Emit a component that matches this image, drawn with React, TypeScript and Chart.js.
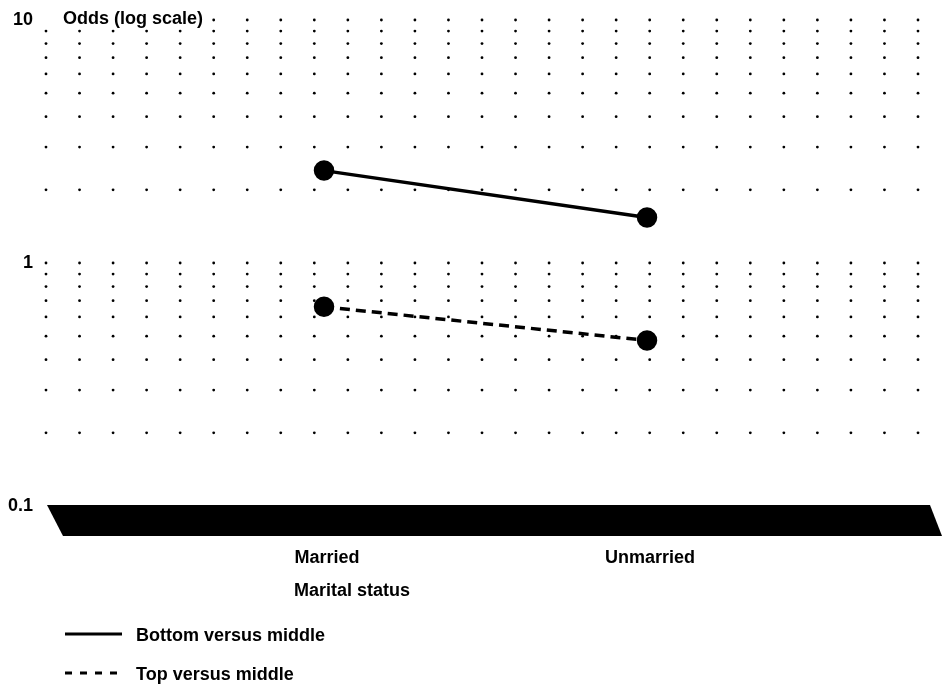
import React, { useEffect, useRef } from "react";
import { Chart, registerables } from "chart.js";

Chart.register(...registerables);

// ---- data ----
const CATEGORIES = ["Married", "Unmarried"];
const BOTTOM_VS_MIDDLE = [2.4, 1.54];
const TOP_VS_MIDDLE = [0.66, 0.48];
const SERIES_NAMES = ["Bottom versus middle", "Top versus middle"];
const Y_TICKS = [0.1, 1, 10];
const GRID_ROWS = [0.2, 0.3, 0.4, 0.5, 0.6, 0.7, 0.8, 0.9, 1, 2, 3, 4, 5, 6, 7, 8, 9, 10];
const GRID_COLUMNS = Array.from({ length: 27 }, (_, i) => i);
const X_TITLE = "Marital status";
const Y_TITLE = "Odds (log scale)";

const FONT = "'Liberation Sans', Arial, Helvetica, sans-serif";
const BOLD18 = `bold 18px ${FONT}`;

const decorPlugin = {
  id: "decor",
  beforeDatasetsDraw(chart: any) {
    const { ctx, chartArea, scales } = chart;
    const y = scales.y;
    const gx = scales.gx;
    const x = scales.x;
    ctx.save();
    // dotted grid
    ctx.fillStyle = "#000";
    for (const v of GRID_ROWS) {
      const py = y.getPixelForValue(v);
      for (const k of GRID_COLUMNS) {
        const px = gx.getPixelForValue(k);
        ctx.beginPath();
        ctx.arc(px, py, 1.4, 0, Math.PI * 2);
        ctx.fill();
      }
    }
    // thick axis band
    const b = chartArea.bottom;
    ctx.beginPath();
    ctx.moveTo(chartArea.left + 1, b - 1);
    ctx.lineTo(chartArea.right + 12, b - 1);
    ctx.lineTo(chartArea.right + 24, b + 30);
    ctx.lineTo(chartArea.left + 17, b + 30);
    ctx.closePath();
    ctx.fill();

    // y title with white background
    ctx.font = BOLD18;
    const tw = ctx.measureText(Y_TITLE).width;
    const ty = y.getPixelForValue(10) - 1;
    ctx.fillStyle = "#fff";
    ctx.fillRect(chartArea.left - 6, ty - 12, 63 - chartArea.left + 6 + tw + 6, 20);
    ctx.fillStyle = "#000";
    ctx.textBaseline = "middle";
    ctx.textAlign = "left";
    ctx.fillText(Y_TITLE, 63, ty);

    // category labels
    ctx.textAlign = "center";
    CATEGORIES.forEach((c, i) => {
      ctx.fillText(c, x.getPixelForValue(i + 1) + 3, b + 52);
    });
    // x title
    ctx.textAlign = "left";
    ctx.fillText(X_TITLE, x.getPixelForValue(1) - 30, b + 85);

    // legend
    const items = [
      { name: SERIES_NAMES[0], dash: [] as number[], y: b + 128 },
      { name: SERIES_NAMES[1], dash: [7, 8], y: b + 167 },
    ];
    for (const it of items) {
      ctx.beginPath();
      ctx.setLineDash(it.dash);
      ctx.lineWidth = 3;
      ctx.strokeStyle = "#000";
      ctx.moveTo(65, it.y);
      ctx.lineTo(122, it.y);
      ctx.stroke();
      ctx.setLineDash([]);
      ctx.fillText(it.name, 136, it.y + 2);
    }
    ctx.restore();
  },
};

export default function App() {
  const ref = useRef<HTMLCanvasElement>(null);
  useEffect(() => {
    const canvas = ref.current;
    if (!canvas) return;
    const chart = new Chart(canvas, {
      type: "line",
      data: {
        datasets: [
          {
            label: SERIES_NAMES[0],
            data: CATEGORIES.map((_, i) => ({ x: i + 1, y: BOTTOM_VS_MIDDLE[i] })),
            borderColor: "#000",
            backgroundColor: "#000",
            borderWidth: 3.5,
            pointRadius: 8.5,
            pointBackgroundColor: "#000",
            pointBorderColor: "#000",
            xAxisID: "x",
          },
          {
            label: SERIES_NAMES[1],
            data: CATEGORIES.map((_, i) => ({ x: i + 1, y: TOP_VS_MIDDLE[i] })),
            borderColor: "#000",
            backgroundColor: "#000",
            borderWidth: 3.5,
            borderDash: [10, 6],
            pointRadius: 8.5,
            pointBackgroundColor: "#000",
            pointBorderColor: "#000",
            xAxisID: "x",
          },
        ],
      },
      options: {
        animation: false,
        responsive: false,
        events: [],
        layout: { padding: { left: 0, top: 20, right: 24, bottom: 183 } },
        plugins: { legend: { display: false }, tooltip: { enabled: false } },
        scales: {
          x: { type: "linear", display: false, min: 0.1393, max: 2.839 },
          gx: { type: "linear", display: false, min: 0, max: 26, position: "bottom" },
          y: {
            type: "logarithmic",
            min: 0.1,
            max: 10,
            position: "left",
            border: { display: false },
            grid: { display: false, drawTicks: false },
            afterBuildTicks: (a: any) => {
              a.ticks = Y_TICKS.map((v) => ({ value: v }));
            },
            afterFit: (a: any) => {
              a.width = 46;
              a.paddingTop = 0;
              a.paddingBottom = 0;
            },
            ticks: {
              padding: 13,
              color: "#000",
              font: { family: FONT, size: 18, weight: "bold" },
              autoSkip: false,
              callback: (v: any) => String(v),
            },
          },
        },
      } as any,
      plugins: [decorPlugin],
    });
    return () => chart.destroy();
  }, []);
  return (
    <div style={{ position: "absolute", left: 0, top: 0, width: 942, height: 689, background: "#fff" }}>
      <canvas ref={ref} width={942} height={689} style={{ display: "block" }} />
    </div>
  );
}
